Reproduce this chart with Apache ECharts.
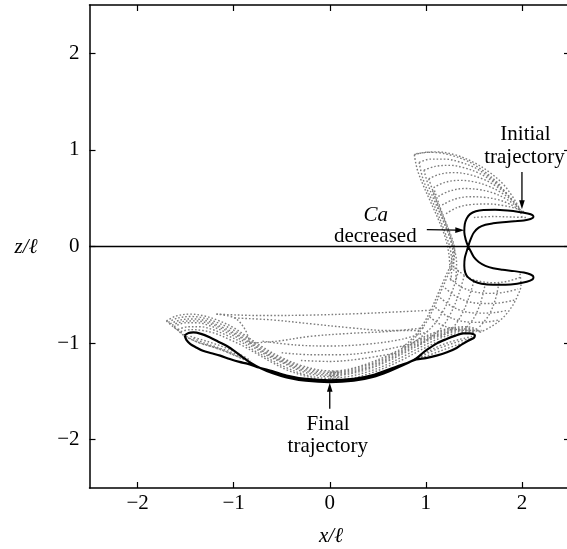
<!DOCTYPE html>
<html><head><meta charset="utf-8">
<script src="https://cdn.jsdelivr.net/npm/echarts@6/dist/echarts.min.js"></script>
<style>html,body{margin:0;padding:0;background:#fff}#c{width:567px;height:549px}</style>
</head><body><div id="c"></div>
<script>
// ---------- data ----------
const xTicks = [-2, -1, 0, 1, 2];
const zTicks = [-2, -1, 0, 1, 2];
const zeroLine = [[-2.5, 0], [2.5, 0]];

const initialTrajectory = [[1.44,0.0],[1.415,0.07],[1.40,0.15],[1.405,0.23],[1.425,0.29],[1.46,0.335],[1.52,0.365],[1.60,0.378],[1.72,0.38],[1.85,0.372],[1.97,0.358],[2.06,0.342],[2.11,0.325],[2.12,0.305],[2.09,0.285],[2.02,0.27],[1.92,0.262],[1.80,0.252],[1.70,0.24],[1.62,0.225],[1.55,0.195],[1.50,0.145],[1.47,0.085],[1.45,0.03],[1.44,0.0],[1.425,-0.05],[1.405,-0.12],[1.40,-0.20],[1.41,-0.27],[1.44,-0.32],[1.50,-0.36],[1.58,-0.385],[1.70,-0.395],[1.83,-0.395],[1.95,-0.385],[2.05,-0.365],[2.11,-0.34],[2.12,-0.315],[2.09,-0.29],[2.02,-0.27],[1.92,-0.255],[1.80,-0.24],[1.70,-0.225],[1.62,-0.20],[1.55,-0.16],[1.50,-0.11],[1.47,-0.055],[1.44,0.0]];

const finalTrajectory = [[-1.51,-0.92],[-1.47,-0.895],[-1.42,-0.89],[-1.34,-0.905],[-1.25,-0.94],[-1.16,-0.985],[-1.07,-1.03],[-0.98,-1.09],[-0.90,-1.15],[-0.82,-1.205],[-0.73,-1.255],[-0.60,-1.31],[-0.45,-1.355],[-0.25,-1.39],[0,-1.405],[0.25,-1.39],[0.45,-1.35],[0.62,-1.29],[0.76,-1.23],[0.90,-1.16],[0.97,-1.10],[1.04,-1.05],[1.12,-1.00],[1.21,-0.96],[1.30,-0.925],[1.39,-0.90],[1.46,-0.90],[1.51,-0.92],[1.50,-0.945],[1.45,-0.97],[1.38,-1.01],[1.32,-1.05],[1.22,-1.095],[1.11,-1.13],[1.00,-1.155],[0.90,-1.17],[0.78,-1.215],[0.62,-1.27],[0.45,-1.33],[0.25,-1.37],[0,-1.385],[-0.25,-1.37],[-0.45,-1.335],[-0.60,-1.29],[-0.73,-1.255],[-0.85,-1.215],[-0.94,-1.195],[-1.04,-1.165],[-1.14,-1.13],[-1.23,-1.105],[-1.32,-1.08],[-1.40,-1.04],[-1.45,-1.01],[-1.49,-0.97],[-1.51,-0.92]];

// transient (dotted grey) pieces
const upperArcs = [
 [[0.88,0.95],[1.00,0.975],[1.14,0.97],[1.28,0.94],[1.42,0.89],[1.56,0.81],[1.68,0.72],[1.79,0.62]],
 [[0.93,0.87],[1.05,0.905],[1.20,0.905],[1.35,0.875],[1.50,0.82],[1.63,0.74],[1.75,0.645],[1.85,0.54]],
 [[0.98,0.79],[1.10,0.83],[1.25,0.84],[1.40,0.815],[1.55,0.76],[1.68,0.685],[1.80,0.59],[1.90,0.48]],
 [[1.03,0.70],[1.15,0.75],[1.30,0.765],[1.45,0.745],[1.60,0.695],[1.73,0.625],[1.85,0.535],[1.94,0.43]],
 [[1.08,0.61],[1.20,0.665],[1.35,0.685],[1.50,0.67],[1.65,0.625],[1.78,0.56],[1.90,0.475],[1.97,0.40]],
 [[1.13,0.52],[1.25,0.575],[1.40,0.60],[1.55,0.59],[1.70,0.555],[1.83,0.495],[1.94,0.42],[2.00,0.36]],
 [[1.17,0.43],[1.30,0.49],[1.45,0.515],[1.60,0.51],[1.75,0.485],[1.88,0.435],[1.98,0.375]],
 [[1.21,0.34],[1.33,0.405],[1.48,0.435],[1.65,0.44],[1.80,0.425],[1.95,0.39],[2.04,0.35]],
 [[1.50,0.30],[1.70,0.31],[1.90,0.305],[2.05,0.30]]
];
const leftStrands = [
 [[0.88,0.95],[0.91,0.80],[0.97,0.64],[1.05,0.46],[1.13,0.28],[1.20,0.10],[1.24,-0.08],[1.25,-0.25]],
 [[0.93,0.87],[0.97,0.70],[1.04,0.53],[1.12,0.35],[1.19,0.17],[1.25,-0.01],[1.27,-0.19],[1.26,-0.36]],
 [[0.98,0.79],[1.03,0.62],[1.10,0.45],[1.18,0.27],[1.25,0.09],[1.29,-0.09],[1.29,-0.27]],
 [[1.03,0.70],[1.09,0.53],[1.16,0.36],[1.23,0.18],[1.29,0.0],[1.32,-0.18],[1.31,-0.36]],
 [[1.07,0.58],[1.13,0.40],[1.20,0.22],[1.26,0.06],[1.28,-0.05],[1.26,-0.18],[1.20,-0.32],[1.13,-0.48],[1.06,-0.64],[0.98,-0.79],[0.88,-0.93],[0.75,-1.05]],
 [[1.09,0.58],[1.15,0.40],[1.22,0.22],[1.28,0.06],[1.30,-0.05],[1.28,-0.18],[1.22,-0.32],[1.15,-0.48],[1.08,-0.64],[1.00,-0.79],[0.90,-0.93],[0.78,-1.05]]
];
const lowerArcs = [
 [[1.30,-0.22],[1.42,-0.31],[1.56,-0.36],[1.70,-0.375],[1.85,-0.36],[1.98,-0.32]],
 [[1.25,-0.33],[1.37,-0.42],[1.51,-0.47],[1.66,-0.485],[1.81,-0.475],[1.96,-0.44]],
 [[1.20,-0.43],[1.32,-0.52],[1.46,-0.575],[1.61,-0.59],[1.76,-0.585],[1.92,-0.555]],
 [[1.15,-0.53],[1.27,-0.62],[1.41,-0.675],[1.56,-0.69],[1.71,-0.685],[1.85,-0.66]],
 [[1.10,-0.63],[1.22,-0.72],[1.36,-0.77],[1.51,-0.785],[1.65,-0.78],[1.76,-0.76]],
 [[1.04,-0.73],[1.16,-0.81],[1.30,-0.855],[1.45,-0.87],[1.58,-0.87]]
];
const lowerDiagonals = [
 [[1.34,-0.25],[1.28,-0.45],[1.20,-0.63],[1.10,-0.79],[0.97,-0.92],[0.82,-1.03]],
 [[1.40,-0.30],[1.34,-0.50],[1.27,-0.67],[1.18,-0.82],[1.05,-0.94],[0.90,-1.04]],
 [[1.50,-0.36],[1.44,-0.55],[1.37,-0.71],[1.28,-0.84],[1.15,-0.94]],
 [[1.62,-0.38],[1.57,-0.58],[1.50,-0.74],[1.40,-0.86]],
 [[1.76,-0.38],[1.72,-0.56],[1.65,-0.72],[1.55,-0.84]]
];
const crescentEdges = [
 [[0.90,0.96],[1.10,0.98],[1.30,0.95],[1.50,0.87],[1.66,0.77],[1.80,0.65],[1.90,0.52],[1.97,0.40],[2.00,0.30]],
 [[1.98,-0.28],[1.99,-0.40],[1.95,-0.52],[1.89,-0.63],[1.80,-0.74],[1.68,-0.83],[1.56,-0.89]]
];
const bowlLines = [
 [[-1.18,-0.70],[-0.7,-0.715],[-0.2,-0.71],[0.3,-0.695],[0.75,-0.675],[1.05,-0.66]],
 [[-1.18,-0.70],[-0.99,-0.74],[-0.88,-0.86],[-0.83,-1.0]],
 [[-0.99,-0.74],[-0.6,-0.76],[-0.2,-0.80],[0.2,-0.84],[0.6,-0.87],[0.95,-0.87]],
 [[-0.83,-1.0],[-0.55,-0.98],[-0.2,-0.93],[0.2,-0.90],[0.6,-0.88],[1.0,-0.84]],
 [[-0.70,-0.98],[-0.35,-1.02],[0,-1.03],[0.4,-1.01],[0.75,-0.96],[1.02,-0.88]],
 [[-0.50,-1.10],[-0.2,-1.12],[0.1,-1.12],[0.45,-1.09],[0.8,-1.02]],
 [[-0.30,-1.18],[0,-1.19],[0.35,-1.16],[0.7,-1.10]]
];
const leftBand = [
 [[-1.70,-0.77],[-1.60,-0.72],[-1.45,-0.70],[-1.30,-0.72],[-1.15,-0.77],[-1.00,-0.84],[-0.85,-0.94],[-0.70,-1.04],[-0.50,-1.15],[-0.30,-1.23],[-0.10,-1.28],[0.10,-1.29]],
 [[-1.68,-0.785],[-1.58,-0.74],[-1.44,-0.725],[-1.29,-0.745],[-1.14,-0.80],[-0.99,-0.87],[-0.84,-0.965],[-0.69,-1.065],[-0.50,-1.165],[-0.30,-1.245],[-0.10,-1.295],[0.10,-1.305]],
 [[-1.66,-0.80],[-1.55,-0.76],[-1.42,-0.75],[-1.28,-0.77],[-1.13,-0.83],[-0.98,-0.90],[-0.83,-0.99],[-0.68,-1.09],[-0.50,-1.18],[-0.30,-1.26],[-0.10,-1.31],[0.10,-1.32]],
 [[-1.64,-0.815],[-1.52,-0.775],[-1.40,-0.77],[-1.26,-0.795],[-1.11,-0.855],[-0.96,-0.925],[-0.81,-1.015],[-0.66,-1.11],[-0.49,-1.195],[-0.30,-1.275],[-0.10,-1.325],[0.10,-1.335]],
 [[-1.62,-0.83],[-1.50,-0.79],[-1.38,-0.79],[-1.25,-0.82],[-1.10,-0.88],[-0.95,-0.95],[-0.80,-1.04],[-0.65,-1.13],[-0.48,-1.21],[-0.30,-1.29],[-0.10,-1.34],[0.10,-1.35]],
 [[-1.58,-0.86],[-1.47,-0.83],[-1.35,-0.83],[-1.22,-0.86],[-1.07,-0.92],[-0.92,-0.99],[-0.78,-1.08],[-0.62,-1.17],[-0.46,-1.25],[-0.28,-1.32],[-0.10,-1.36],[0.10,-1.37]],
 [[-1.55,-0.88],[-1.44,-0.86],[-1.32,-0.87],[-1.19,-0.90],[-1.05,-0.96],[-0.90,-1.03],[-0.76,-1.11],[-0.60,-1.20],[-0.44,-1.28],[-0.26,-1.34],[-0.08,-1.38],[0.10,-1.38]]
];
const leftLobeInner = [
 [[-1.70,-0.77],[-1.63,-0.83],[-1.55,-0.89],[-1.46,-0.95],[-1.35,-1.00],[-1.22,-1.04],[-1.08,-1.09],[-0.94,-1.15],[-0.80,-1.21]],
 [[-1.62,-0.83],[-1.52,-0.92],[-1.40,-0.98],[-1.28,-1.02],[-1.15,-1.06],[-1.00,-1.12],[-0.86,-1.18]],
 [[-1.45,-0.93],[-1.35,-0.96],[-1.22,-1.00],[-1.08,-1.05],[-0.95,-1.11],[-0.82,-1.18]],
 [[-1.42,-0.95],[-1.30,-1.00],[-1.18,-1.04],[-1.04,-1.09],[-0.90,-1.15]]
];
const rightBand = [
 [[0.0,-1.30],[0.20,-1.27],[0.40,-1.21],[0.60,-1.13],[0.78,-1.04],[0.95,-0.95],[1.12,-0.88],[1.28,-0.84],[1.42,-0.83],[1.54,-0.86],[1.56,-0.89]],
 [[0.0,-1.31],[0.20,-1.283],[0.40,-1.225],[0.60,-1.145],[0.78,-1.055],[0.95,-0.965],[1.12,-0.895],[1.28,-0.853],[1.42,-0.843],[1.54,-0.87]],
 [[0.0,-1.32],[0.20,-1.295],[0.40,-1.24],[0.60,-1.16],[0.78,-1.07],[0.95,-0.98],[1.12,-0.91],[1.28,-0.865],[1.42,-0.855],[1.53,-0.88]],
 [[0.0,-1.333],[0.20,-1.308],[0.40,-1.255],[0.60,-1.175],[0.78,-1.085],[0.95,-0.995],[1.12,-0.922],[1.28,-0.877],[1.42,-0.865],[1.52,-0.89]],
 [[0.0,-1.345],[0.20,-1.32],[0.40,-1.27],[0.60,-1.19],[0.78,-1.10],[0.95,-1.01],[1.12,-0.935],[1.28,-0.89],[1.42,-0.875],[1.52,-0.90]],
 [[0.0,-1.365],[0.20,-1.345],[0.40,-1.295],[0.60,-1.22],[0.78,-1.13],[0.95,-1.04],[1.12,-0.96],[1.28,-0.91],[1.42,-0.89]],
 [[0.0,-1.385],[0.20,-1.37],[0.40,-1.32],[0.60,-1.245],[0.78,-1.16],[0.95,-1.07],[1.12,-0.985]]
];
const rightLobeInner = [
 [[0.88,-1.17],[1.00,-1.10],[1.14,-1.03],[1.28,-0.98],[1.40,-0.95],[1.48,-0.93]],
 [[0.92,-1.16],[1.05,-1.09],[1.20,-1.03],[1.34,-0.985],[1.45,-0.955]],
 [[0.95,-1.155],[1.10,-1.10],[1.25,-1.045],[1.38,-1.00],[1.47,-0.965]]
];

// annotations: arrows [x1, z1, x2, z2] (tail -> head)
const arrows = [[2.0, 0.77, 2.0, 0.385], [1.01, 0.175, 1.40, 0.168], [0.0, -1.68, 0.0, -1.41]];
const labelTexts = ['Initial', 'trajectory', 'Ca', 'decreased', 'Final', 'trajectory'];
const labelItalic = [false, false, true, false, false, false];
const labelAnchors = [[2.036, 1.16], [2.026, 0.924], [0.478, 0.316], [0.474, 0.106], [-0.017, -1.844], [-0.02, -2.067]];

// ---------- chart ----------
const FONT = '"Liberation Serif", "Times New Roman", serif';
const chart = echarts.init(document.getElementById('c'));
const minus = v => String(v).replace('-', '\u2212');
const grayStyle = {color: '#7c7c7c', width: 1.4, type: [1.6, 2.0]};
const series = [];
[upperArcs, leftStrands, lowerArcs, lowerDiagonals, crescentEdges, bowlLines, leftBand, leftLobeInner, rightBand, rightLobeInner]
  .forEach(g => g.forEach(arc => series.push({
    type: 'line', data: arc, symbol: 'none', smooth: 0.35, silent: true, z: 2,
    lineStyle: grayStyle, animation: false
  })));
series.push({type: 'line', data: zeroLine, symbol: 'none', silent: true, z: 3, animation: false,
  lineStyle: {color: '#000', width: 1.4}});
series.push({type: 'line', data: initialTrajectory, symbol: 'none', smooth: 0.3, silent: true, z: 4, animation: false,
  lineStyle: {color: '#000', width: 2}});
series.push({type: 'line', data: finalTrajectory, symbol: 'none', smooth: 0.3, silent: true, z: 4, animation: false,
  lineStyle: {color: '#000', width: 2.2}});
series.push({
  type: 'custom', data: arrows, z: 5, silent: true, animation: false,
  encode: {x: [0, 2], y: [1, 3]},
  renderItem: (params, api) => {
    const p1 = api.coord([api.value(0), api.value(1)]);
    const p2 = api.coord([api.value(2), api.value(3)]);
    const dx = p2[0] - p1[0], dy = p2[1] - p1[1];
    const len = Math.hypot(dx, dy), ux = dx / len, uy = dy / len;
    const hl = 9, hw = 2.8;
    const bx = p2[0] - ux * hl, by = p2[1] - uy * hl;
    return {type: 'group', children: [
      {type: 'line', shape: {x1: p1[0], y1: p1[1], x2: bx + ux * 2, y2: by + uy * 2}, style: {stroke: '#000', lineWidth: 1.3}},
      {type: 'polygon', shape: {points: [[p2[0], p2[1]], [bx - uy * hw, by + ux * hw], [bx + uy * hw, by - ux * hw]]}, style: {fill: '#000'}}
    ]};
  }
});
series.push({
  type: 'custom', data: labelAnchors, z: 6, silent: true, animation: false,
  renderItem: (params, api) => {
    const p = api.coord([api.value(0), api.value(1)]);
    const i = params.dataIndex;
    return {type: 'text', x: p[0], y: p[1], style: {
      text: labelTexts[i], fill: '#000',
      font: (labelItalic[i] ? 'italic ' : '') + '21px ' + FONT,
      align: 'center', verticalAlign: 'middle', textAlign: 'center', textVerticalAlign: 'middle'
    }};
  }
});

const axisLineStyle = {onZero: false, lineStyle: {color: '#000', width: 1.5}};
const tickStyle = (vals) => ({inside: true, length: 6, customValues: vals, lineStyle: {color: '#000', width: 1.2}});
const labelStyle = (vals, margin) => ({customValues: vals, formatter: minus, fontFamily: FONT, fontSize: 21, color: '#000', margin: margin});

chart.setOption({
  animation: false,
  backgroundColor: '#fff',
  grid: {left: 89.5, top: 5, width: 480.5, height: 483, containLabel: false, outerBoundsMode: 'none'},
  xAxis: [
    {type: 'value', min: -2.5, max: 2.5, position: 'bottom', axisLine: axisLineStyle, axisTick: tickStyle(xTicks),
      axisLabel: labelStyle(xTicks, 5), splitLine: {show: false}},
    {type: 'value', min: -2.5, max: 2.5, position: 'top', axisLine: axisLineStyle, axisTick: tickStyle(xTicks),
      axisLabel: {show: false}, splitLine: {show: false}}
  ],
  yAxis: [
    {type: 'value', min: -2.5, max: 2.5, position: 'left', axisLine: axisLineStyle, axisTick: tickStyle(zTicks),
      axisLabel: labelStyle(zTicks, 10), splitLine: {show: false}},
    {type: 'value', min: -2.5, max: 2.5, position: 'right', axisLine: axisLineStyle, axisTick: tickStyle(zTicks),
      axisLabel: {show: false}, splitLine: {show: false}}
  ],
  graphic: [
    {type: 'text', x: 331, y: 536, style: {text: 'x/\u2113', font: 'italic 21px ' + FONT, fill: '#000',
      align: 'center', verticalAlign: 'middle', textAlign: 'center', textVerticalAlign: 'middle'}},
    {type: 'text', x: 26, y: 247, style: {text: 'z/\u2113', font: 'italic 21px ' + FONT, fill: '#000',
      align: 'center', verticalAlign: 'middle', textAlign: 'center', textVerticalAlign: 'middle'}}
  ],
  series: series
});
</script></body></html>
